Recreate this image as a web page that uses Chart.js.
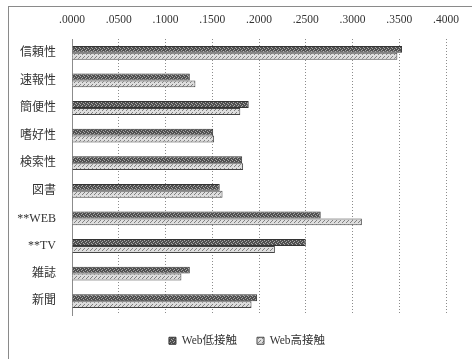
<!DOCTYPE html>
<html>
<head>
<meta charset="utf-8">
<script src="https://cdn.jsdelivr.net/npm/chart.js@4/dist/chart.umd.min.js"></script>
<style>
  html, body { margin: 0; padding: 0; background: #fff; }
  #frame { position: absolute; left: 8px; top: 6px; width: 470px; height: 360px;
           border-left: 1px solid #8a8a8a; border-top: 1px solid #8a8a8a; }
  #wrap { position: absolute; left: 0; top: 0; width: 472px; height: 359px; }
</style>
</head>
<body>
<div id="frame"></div>
<div id="wrap"><canvas id="c" width="472" height="359"></canvas></div>
<script>
// Media attributes (rows) and the two respondent groups
const categories = ['信頼性', '速報性', '簡便性', '嗜好性', '検索性', '図書', '**WEB', '**TV', '雑誌', '新聞'];
const seriesNames = ['Web低接触', 'Web高接触'];
const webLow  = [0.353, 0.126, 0.189, 0.151, 0.182, 0.158, 0.266, 0.250, 0.126, 0.198];
const webHigh = [0.348, 0.132, 0.180, 0.152, 0.183, 0.161, 0.310, 0.217, 0.117, 0.192];
const axisMax = 0.4;
const axisStep = 0.05;

// Small textured fills for the bars
function makePattern(bg, fg, cells) {
  const t = document.createElement('canvas');
  t.width = 4; t.height = 4;
  const g = t.getContext('2d');
  g.fillStyle = bg; g.fillRect(0, 0, 4, 4);
  g.fillStyle = fg;
  cells.forEach(([x, y]) => g.fillRect(x, y, 1, 1));
  return g.createPattern(t, 'repeat');
}
const ctx = document.getElementById('c').getContext('2d');
const darkFill = makePattern('#505050', '#a8a8a8', [[0,0],[2,1],[1,2],[3,3]]);
const lightFill = makePattern('#dedede', '#808080', [[0,0],[2,2],[3,1]]);

const serif = '"Liberation Serif", "Noto Sans CJK JP", serif';

// Fixed-height legend band below the plot, nudged right of centre
const legendBand = {
  id: 'legendBand',
  beforeLayout(chart) {
    const lg = chart.legend;
    if (lg && !lg._bandPatched) {
      const fit = lg.fit.bind(lg);
      lg.fit = function () { fit(); this.height = 44; };
      lg._bandPatched = true;
    }
  },
  afterLayout(chart) {
    const lg = chart.legend;
    if (lg) { lg.left += 18; lg.right += 18; }
  }
};

new Chart(ctx, {
  type: 'bar',
  data: {
    labels: categories,
    datasets: [
      { label: seriesNames[0], data: webLow, backgroundColor: darkFill,
        borderColor: '#333', borderWidth: 1 },
      { label: seriesNames[1], data: webHigh, backgroundColor: lightFill,
        borderColor: '#444', borderWidth: 1 }
    ]
  },
  options: {
    indexAxis: 'y',
    responsive: false,
    animation: false,
    layout: { padding: { top: 9, left: 12, right: 26, bottom: 0 } },
    datasets: { bar: { categoryPercentage: 0.5, barPercentage: 1.0 } },
    scales: {
      x: {
        position: 'top',
        min: 0, max: axisMax,
        ticks: {
          stepSize: axisStep,
          color: '#333',
          font: { family: serif, size: 11.5 },
          padding: 12,
          callback: v => Number(v).toFixed(4).slice(1)
        },
        grid: { color: '#8c8c8c', lineWidth: 1, drawTicks: false },
        border: { display: false, dash: [1, 2] },
        afterFit: s => { s.height = 30; }
      },
      y: {
        ticks: { color: '#333', font: { family: serif, size: 12 }, padding: 8 },
        grid: { display: false },
        border: { display: true, color: '#8c8c8c', dash: [1, 2] },
        afterFit: s => { s.width = 60; }
      }
    },
    plugins: {
      legend: {
        position: 'bottom',
        labels: { boxWidth: 7, boxHeight: 7, padding: 20, color: '#333',
                  font: { family: serif, size: 11.5 } }
      },
      tooltip: { enabled: false }
    }
  },
  plugins: [legendBand]
});
</script>
</body>
</html>
